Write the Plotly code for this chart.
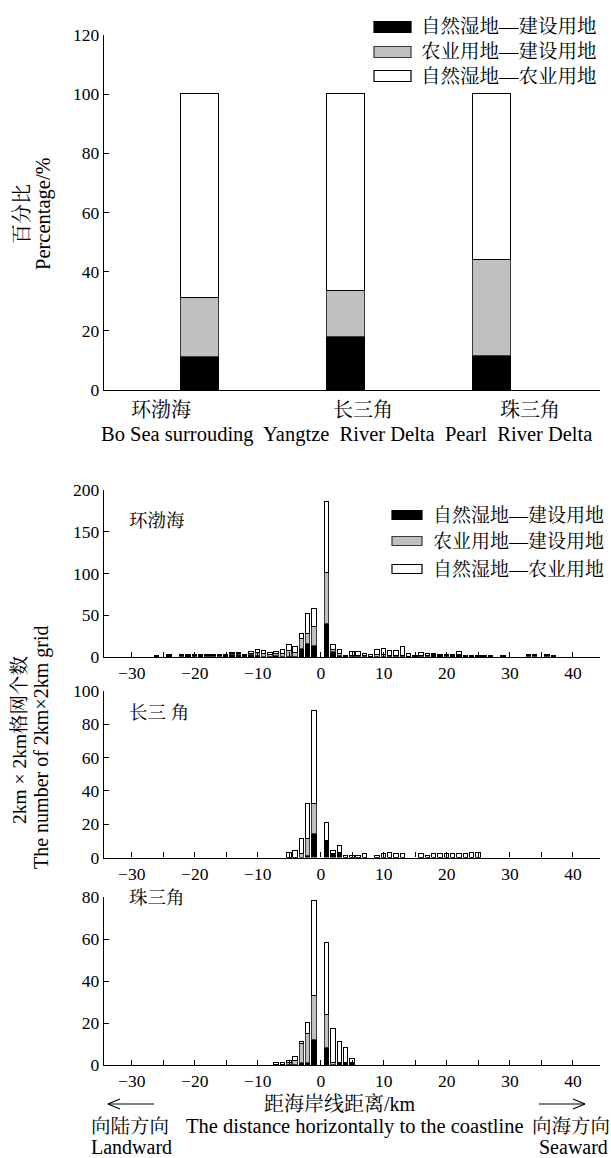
import plotly.graph_objects as go

W, H = 611, 1158


def px(x):
    return x / W


def py(y):
    return 1 - y / H


# ---------------- data ----------------
regions_cn = ["环渤海", "长三角", "珠三角"]
regions_en = ["Bo Sea surrouding", "Yangtze  River Delta", "Pearl  River Delta"]
series_names = ["自然湿地—建设用地", "农业用地—建设用地", "自然湿地—农业用地"]

pct_wet_build = [11.0, 17.8, 11.6]
pct_agr_build = [20.0, 15.7, 32.2]
pct_wet_agr = [69.0, 66.5, 56.2]

bo_dist = [-26, -24, -22, -21, -20, -19, -18, -17, -16, -15, -14, -13, -12, -11, -10, -9, -8, -7, -6, -5,
           -4, -3, -2, -1, 1, 2, 3, 4, 5, 6, 7, 8, 9, 10, 11, 12, 13, 14, 15, 16, 17, 18, 19, 20, 21, 22,
           23, 24, 25, 26, 27, 29, 33, 34, 36, 37]
bo_wet_build = [0, 2, 0, 1, 0, 1, 0, 0, 0, 1, 3, 3, 1, 2, 1, 0, 0, 1, 0, 0,
                0, 9, 16, 13, 39, 6, 1, 0, 0, 0, 0, 0, 0, 0, 0, 0, 0, 0, 0, 0, 0, 2, 2, 0, 1, 2,
                0, 0, 0, 0, 0, 0, 0, 0, 0, 0]
bo_agr_build = [0, 0, 1, 0, 1, 0, 1, 1, 1, 0, 1, 1, 0, 2, 4, 4, 2, 3, 4, 7,
                5, 13, 12, 23, 62, 2, 3, 0, 1, 1, 1, 0, 2, 2, 1, 1, 1, 0, 0, 1, 1, 1, 0, 1, 0, 1,
                0, 0, 0, 0, 0, 0, 1, 1, 1, 0]
bo_wet_agr = [1, 1, 1, 1, 1, 1, 1, 1, 1, 1, 1, 1, 1, 2, 3, 3, 3, 2, 4, 7,
              7, 5, 24, 21, 85, 6, 4, 1, 5, 5, 3, 3, 6, 7, 6, 6, 11, 4, 1, 4, 3, 1, 1, 1, 2, 3,
              1, 1, 1, 1, 1, 1, 1, 1, 2, 1]

yz_dist = [-5, -4, -3, -2, -1, 1, 2, 3, 4, 5, 6, 7, 9, 10, 11, 12, 13, 16, 17, 18, 19, 20, 21, 22, 23, 24, 25]
yz_wet_build = [0, 0, 0, 1, 14, 10, 2, 3, 0, 0, 0, 0, 0, 0, 0, 0, 0, 0, 0, 0, 0, 0, 0, 0, 0, 0, 0]
yz_agr_build = [0, 0, 2, 10, 18, 0, 0, 0, 0, 0, 0, 0, 0, 0, 0, 0, 0, 0, 0, 0, 0, 0, 0, 0, 0, 0, 0]
yz_wet_agr = [3, 4, 9, 21, 56, 11, 2, 4, 1, 1, 1, 2, 1, 2, 3, 2, 2, 2, 1, 2, 2, 2, 2, 2, 2, 3, 3]

pr_dist = [-7, -6, -5, -4, -3, -2, -1, 1, 2, 3, 4, 5]
pr_wet_build = [0, 0, 0, 0, 1, 1, 12, 8, 0, 1, 1, 1]
pr_agr_build = [0, 0, 1, 2, 9, 14, 21, 16, 1, 0, 0, 0]
pr_wet_agr = [1, 1, 1, 2, 1, 5, 45, 34, 16, 10, 7, 2]

x_tick_vals = [-30, -20, -10, 0, 10, 20, 30, 40]

# ---------------- styles ----------------
FILLS = ["#000000", "#c0c0c0", "#ffffff"]
LINES = ["#000000", "#3a3a3a", "#000000"]
FONT = "Liberation Serif, 'Noto Serif CJK SC', 'Noto Sans CJK SC', serif"

fig = go.Figure()

# top stacked percentage chart
cat_pos = [i + 1 for i in range(len(regions_cn))]
for name, vals, fc, lc in zip(series_names, [pct_wet_build, pct_agr_build, pct_wet_agr], FILLS, LINES):
    fig.add_trace(go.Bar(x=cat_pos, y=vals, name=name, width=0.26,
                         marker=dict(color=fc, line=dict(color=lc, width=1.2)),
                         xaxis="x", yaxis="y", showlegend=False))

panels = [
    (bo_dist, [bo_wet_build, bo_agr_build, bo_wet_agr], "x2", "y2"),
    (yz_dist, [yz_wet_build, yz_agr_build, yz_wet_agr], "x3", "y3"),
    (pr_dist, [pr_wet_build, pr_agr_build, pr_wet_agr], "x4", "y4"),
]
for dist, series, xa, ya in panels:
    for name, vals, fc, lc in zip(series_names, series, FILLS, LINES):
        fig.add_trace(go.Bar(x=dist, y=vals, name=name, width=0.7,
                             marker=dict(color=fc, line=dict(color=lc, width=1)),
                             xaxis=xa, yaxis=ya, showlegend=False))

axis_common = dict(showgrid=False, zeroline=False, showline=True, linecolor="black", linewidth=1.4,
                   ticks="inside", ticklen=5, tickcolor="black", tickwidth=1.2,
                   tickfont=dict(family=FONT, size=17.5, color="black"))

xd = [px(104), px(600)]
layout = dict(
    width=W, height=H, margin=dict(l=0, r=0, t=0, b=0, autoexpand=False),
    paper_bgcolor="white", plot_bgcolor="white", barmode="stack", bargap=0,
    font=dict(family=FONT, color="black"),
    xaxis=dict(domain=xd, anchor="y", range=[0.342, 3.74], showticklabels=False,
               showgrid=False, zeroline=False, showline=True, linecolor="black", linewidth=1.4, ticks=""),
    yaxis=dict(domain=[py(390), py(35)], anchor="x", range=[0, 120], dtick=20, tick0=0, **axis_common),
)

hist_axes = [("xaxis2", "yaxis2", "y2", "x2", 657, 490, 200, 50),
             ("xaxis3", "yaxis3", "y3", "x3", 857.5, 690.8, 100, 20),
             ("xaxis4", "yaxis4", "y4", "x4", 1065, 897, 80, 20)]
for xk, yk, yref, xref, y0, y1, ymax, dt in hist_axes:
    layout[xk] = dict(domain=xd, anchor=yref, range=[-34.4, 44.3], tickmode="array", tickvals=x_tick_vals,
                      minor=dict(dtick=5, tick0=0, ticks="inside", ticklen=5, tickcolor="black", tickwidth=1.2),
                      **axis_common)
    layout[yk] = dict(domain=[py(y0), py(y1)], anchor=xref, range=[0, ymax], dtick=dt, tick0=0, **axis_common)

fig.update_layout(**layout)

shapes = []
annotations = []


def add_text(text, x, y, size, xanchor="center", angle=0):
    annotations.append(dict(text=text, x=px(x), y=py(y), xref="paper", yref="paper", showarrow=False,
                            xanchor=xanchor, yanchor="middle", textangle=angle,
                            font=dict(family=FONT, size=size, color="black")))


# top legend
for i, (name, fc, lc) in enumerate(zip(series_names, FILLS, LINES)):
    yc = [27, 52, 76][i]
    shapes.append(dict(type="rect", xref="paper", yref="paper", x0=px(374), x1=px(411),
                       y0=py(yc + 5.5), y1=py(yc - 5.5), fillcolor=fc, line=dict(color=lc, width=1.2)))
    add_text(name, 419, yc, 19.5, "left")

# hist legend
for i, (name, fc, lc) in enumerate(zip(series_names, FILLS, LINES)):
    yc = [515, 541, 569][i]
    shapes.append(dict(type="rect", xref="paper", yref="paper", x0=px(392), x1=px(422),
                       y0=py(yc + 4.5), y1=py(yc - 4.5), fillcolor=fc, line=dict(color=lc, width=1.2)))
    add_text(name, 431, yc, 19, "left")

# top category labels
for name, xc in zip(regions_cn, [161, 363, 530]):
    add_text(name, xc, 410, 20)
add_text("Bo Sea surrouding  Yangtze  River Delta  Pearl  River Delta", 346, 434, 20.5)

# top y title
add_text("百分比", 22, 214, 20, angle=-90)
add_text("Percentage/%", 43, 214, 20.5, angle=-90)

# panel labels
add_text(regions_cn[0], 127, 521, 18.5, "left")
add_text("长三 角", 127, 713, 18.5, "left")
add_text(regions_cn[2], 127, 898, 18.5, "left")

# hist y title
add_text("2km × 2km格网个数", 19, 740, 19.5, angle=-90)
add_text("The number of 2km×2km grid", 41, 748, 20, angle=-90)

# bottom labels
add_text("距海岸线距离/km", 340, 1104, 20)
add_text("向陆方向", 130, 1126, 19.5)
add_text("Landward", 131, 1147, 20)
add_text("The distance horizontally to the coastline", 355, 1126, 20.5)
add_text("向海方向", 571, 1126, 19.5)
add_text("Seaward", 573, 1147, 20)

# arrows
for xa, xb in [(108, 154), (585, 539)]:
    shapes.append(dict(type="line", xref="paper", yref="paper", x0=px(xa), x1=px(xb), y0=py(1104), y1=py(1104),
                       line=dict(color="black", width=1.2)))
    d = 12 if xb > xa else -12
    for dy in (-5, 5):
        shapes.append(dict(type="line", xref="paper", yref="paper", x0=px(xa), x1=px(xa + d),
                           y0=py(1104), y1=py(1104 + dy), line=dict(color="black", width=1.2)))

fig.update_layout(shapes=shapes, annotations=annotations)

fig.write_html("out.html", config={"displayModeBar": False},
               post_script="document.body.style.margin='0';document.body.style.overflow='hidden';")
